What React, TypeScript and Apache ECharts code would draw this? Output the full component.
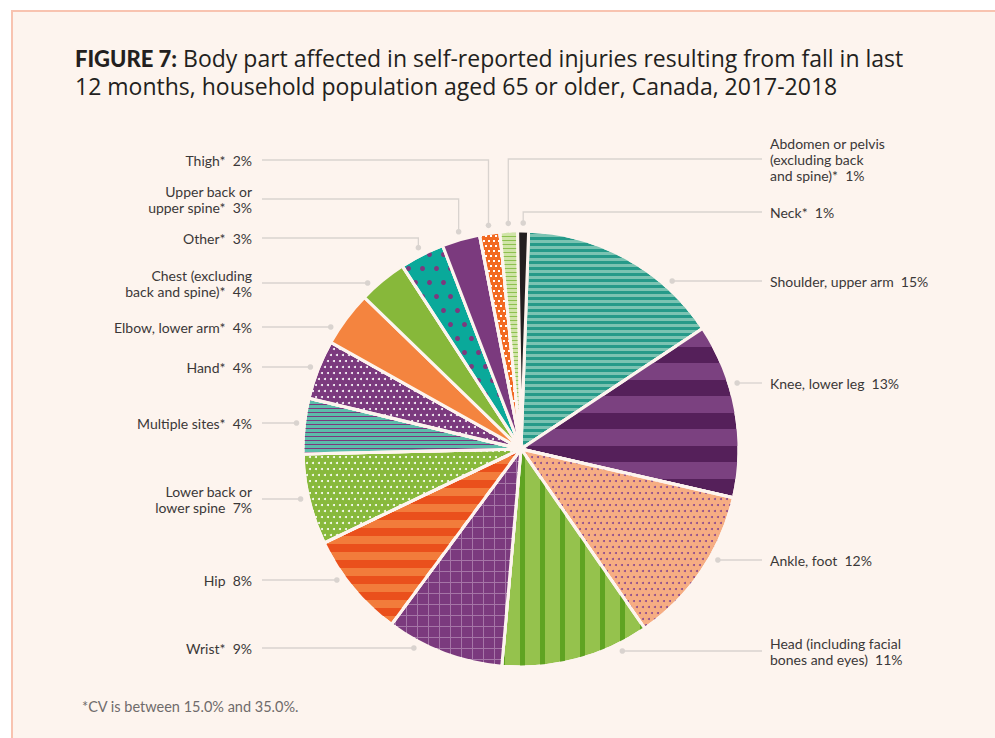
import React, { useEffect, useRef } from 'react';
import * as echarts from 'echarts';

// ---- data ----
const categories = [
  'Shoulder, upper arm',
  'Knee, lower leg',
  'Ankle, foot',
  'Head (including facial\nbones and eyes)',
  'Wrist*',
  'Hip',
  'Lower back or\nlower spine',
  'Multiple sites*',
  'Hand*',
  'Elbow, lower arm*',
  'Chest (excluding\nback and spine)*',
  'Other*',
  'Upper back or\nupper spine*',
  'Thigh*',
  'Abdomen or pelvis\n(excluding back\nand spine)*',
  'Neck*',
];
const shares = [15.1, 12.9, 11.8, 11.0, 8.7, 7.8, 6.7, 4.1, 4.4, 4.1, 3.6, 3.3, 2.8, 1.5, 1.3, 0.8];
const percentLabels = ['15%', '13%', '12%', '11%', '9%', '8%', '7%', '4%', '4%', '4%', '4%', '3%', '3%', '2%', '1%', '1%'];

const TITLE_BOLD = 'FIGURE 7:';
const TITLE_LINE1 = ' Body part affected in self-reported injuries resulting from fall in last';
const TITLE_LINE2 = '12 months, household population aged 65 or older, Canada, 2017-2018';
const FOOTNOTE = '*CV is between 15.0% and 35.0%.';

// ---- layout (positions / styles) ----
const CX = 521;
const CY = 449;
const R = 218;
const DOT_R = 226;
const START_DEG = 2; // clockwise from 12 o'clock
const LEFT_TEXT_X = 252;
const LEFT_LINE_X = 262;
const RIGHT_TEXT_X = 770;
const RIGHT_LINE_X = 762;
const LABEL_Y = [281, 383, 560, 651, 648, 580, 499, 423, 367, 327, 283, 238, 199, 160, 159, 212];
const LABEL_SIDE = ['r', 'r', 'r', 'r', 'l', 'l', 'l', 'l', 'l', 'l', 'l', 'l', 'l', 'l', 'r', 'r'];
const LABEL_ELBOW = [0, 0, 0, 0, 0, 0, 0, 0, 0, 0, 0, 1, 1, 1, 1, 1];
const LINE_COLOR = '#d9d3cf';
const BG = '#fdf4ee';

const dots = (color: string, d: number, gap: number) => ({
  symbol: 'circle',
  symbolSize: 1,
  color,
  dashArrayX: [[d, gap], [0, Math.round((d + gap) / 2), d, (d + gap) - Math.round((d + gap) / 2) - d]],
  dashArrayY: [d, gap],
});
const hStripes = (color: string, a: number, b: number) => ({
  symbol: 'rect',
  symbolSize: 1,
  color,
  dashArrayX: [20, 0],
  dashArrayY: [a, b],
});

const itemStyles: any[] = [
  { color: '#269a89', decal: hStripes('#7bc3b2', 3, 3) },
  { color: '#55205a', decal: hStripes('#7b4180', 17, 16) },
  { color: '#f6ad83', decal: dots('#8b4a8d', 2, 4) },
  { color: '#95c24d', decal: { symbol: 'rect', symbolSize: 1, color: '#5fa322', dashArrayX: [5, 15], dashArrayY: [1, 0] } },
  { color: '#a575a7', decal: { symbol: 'rect', symbolSize: 1, color: '#7b3a7e', dashArrayX: [10, 1], dashArrayY: [10, 1] } },
  { color: '#f27c3b', decal: hStripes('#ea501c', 8, 8) },
  { color: '#88b93c', decal: dots('#ffffff', 2, 4) },
  { color: '#5cbcaa', decal: hStripes('#7b3a7e', 1, 3) },
  { color: '#7b3a7e', decal: dots('#ffffff', 2, 4) },
  { color: '#f4843f' },
  { color: '#87b83a' },
  { color: '#0aa99a', decal: dots('#7b3a7e', 5, 9) },
  { color: '#7b3a7e' },
  { color: '#f26a22', decal: { symbol: 'rect', symbolSize: 1, color: '#ffffff', dashArrayX: [[2, 3], [0, 3, 2, 0]], dashArrayY: [2, 3] } },
  { color: '#d0e4a8', decal: hStripes('#8dc04e', 1, 3) },
  { color: '#231f20' },
];

function buildGeometry() {
  const total = shares.reduce((a, b) => a + b, 0);
  let cum = 0;
  const out: { points: number[][]; dot: number[] }[] = [];
  shares.forEach((v, i) => {
    const mid = ((START_DEG + (360 * (cum + v / 2)) / total) * Math.PI) / 180;
    cum += v;
    const y = LABEL_Y[i];
    const left = LABEL_SIDE[i] === 'l';
    let dot: number[];
    let points: number[][];
    if (LABEL_ELBOW[i]) {
      dot = [CX + DOT_R * Math.sin(mid), CY - DOT_R * Math.cos(mid)];
      points = [[left ? LEFT_LINE_X : RIGHT_LINE_X, y], [dot[0], y], dot];
    } else {
      const dy = y - CY;
      const dx = Math.sqrt(Math.max(0, DOT_R * DOT_R - dy * dy));
      dot = [left ? CX - dx : CX + dx, y];
      points = [[left ? LEFT_LINE_X : RIGHT_LINE_X, y], dot];
    }
    out.push({ points, dot });
  });
  return out;
}

export default function App() {
  const ref = useRef<HTMLDivElement>(null);
  useEffect(() => {
    if (!ref.current) return;
    const chart = echarts.init(ref.current, undefined, { renderer: 'svg' });
    const geom = buildGeometry();
    const font = 'Lato';
    const titleFont = 'Open Sans';
    chart.setOption({
      animation: false,
      backgroundColor: 'transparent',
      title: {
        left: 70,
        top: 39,
        text: `{b|${TITLE_BOLD}}{n|${TITLE_LINE1}}\n{n|${TITLE_LINE2}}`,
        textStyle: {
          fontFamily: titleFont,
          fontSize: 23,
          fontWeight: 'normal',
          color: '#231f20',
          lineHeight: 28,
          rich: {
            b: { fontFamily: font, fontSize: 22, fontWeight: 900, color: '#231f20', lineHeight: 28 },
            n: { fontFamily: titleFont, fontSize: 23, fontWeight: 'normal', color: '#231f20', lineHeight: 28 },
          },
        },
      },
      graphic: [
        ...geom.map((g) => ({
          type: 'circle',
          z: 100,
          silent: true,
          shape: { cx: g.dot[0], cy: g.dot[1], r: 2.8 },
          style: { fill: LINE_COLOR },
        })),
        {
          type: 'text',
          left: 82,
          top: 699,
          silent: true,
          style: { text: FOOTNOTE, fontFamily: font, fontSize: 14.5, fill: '#6f6b6b' },
        },
      ],
      series: [
        {
          type: 'pie',
          center: [CX, CY],
          radius: [0, R],
          startAngle: 90 - START_DEG,
          clockwise: true,
          avoidLabelOverlap: false,
          emphasis: { disabled: true },
          itemStyle: { borderColor: BG, borderWidth: 3 },
          label: {
            show: true,
            position: 'outer',
            alignTo: 'none',
            fontFamily: font,
            fontSize: 14,
            lineHeight: 16,
            color: '#3b3838',
            formatter: (p: any) => `${categories[p.dataIndex]}  ${percentLabels[p.dataIndex]}`,
          },
          labelLine: { show: true, smooth: false, length: 10, length2: 10, lineStyle: { color: LINE_COLOR, width: 1.3 } },
          labelLayout: (p: any) => {
            const i = p.dataIndex;
            const left = LABEL_SIDE[i] === 'l';
            return {
              x: left ? LEFT_TEXT_X : RIGHT_TEXT_X,
              y: LABEL_Y[i],
              align: left ? 'right' : 'left',
              verticalAlign: 'middle',
              labelLinePoints: geom[i].points,
            };
          },
          data: categories.map((name, i) => ({
            name,
            value: shares[i],
            itemStyle: itemStyles[i],
          })),
        },
      ],
    });
    return () => chart.dispose();
  }, []);

  return (
    <div style={{ position: 'absolute', left: 0, top: 0, width: 995, height: 738, background: '#ffffff', overflow: 'hidden' }}>
      <div
        style={{
          position: 'absolute',
          left: 11,
          top: 10,
          width: 1000,
          height: 800,
          background: BG,
          borderTop: '2px solid #f8c3b0',
          borderLeft: '2px solid #f8c3b0',
        }}
      />
      <div ref={ref} style={{ position: 'absolute', left: 0, top: 0, width: 995, height: 738 }} />
    </div>
  );
}
